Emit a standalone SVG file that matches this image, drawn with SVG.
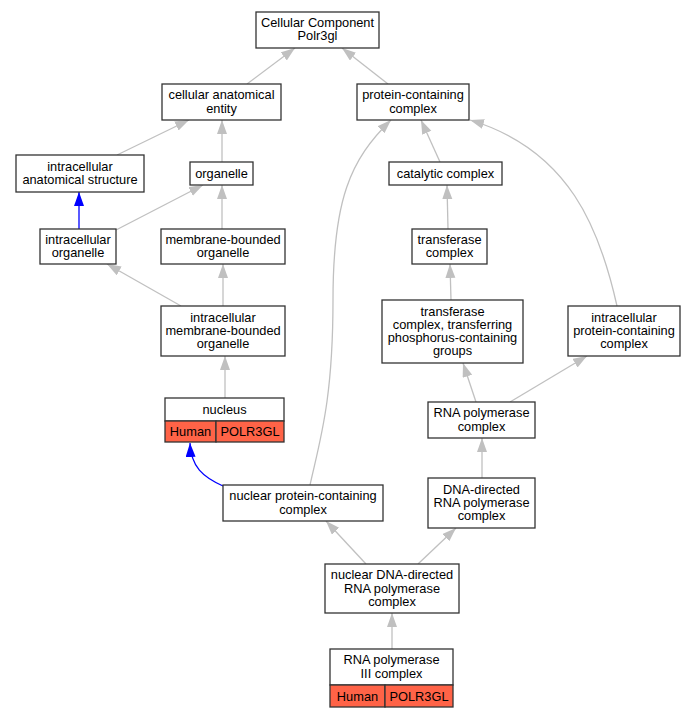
<svg xmlns="http://www.w3.org/2000/svg" width="696" height="717" viewBox="0 0 696 717">
<style>
.box{fill:#fff;stroke:#333;stroke-width:1.3}
.red{fill:#ff6347;stroke:#333;stroke-width:1.3}
text{font-family:"Liberation Sans",Arial,sans-serif;font-size:12.8px;fill:#000;text-anchor:middle}
.e{fill:none;stroke:#c0c0c0;stroke-width:1.3}
.b{fill:none;stroke:#0000ff;stroke-width:1.3}
</style>
<defs>
<marker id="ag" markerUnits="userSpaceOnUse" markerWidth="15" markerHeight="11" refX="14" refY="5" orient="auto"><path d="M0,0 L14,5 L0,10 z" fill="#c0c0c0"/></marker>
<marker id="ab" markerUnits="userSpaceOnUse" markerWidth="15" markerHeight="11" refX="14" refY="5" orient="auto"><path d="M0,0 L14,5 L0,10 z" fill="#0000ff"/></marker>
</defs>
<rect width="696" height="717" fill="#fff"/>
<g id="edges">
<path class="e" marker-end="url(#ag)" d="M247,84 L295,48"/>
<path class="e" marker-end="url(#ag)" d="M388,84 L342,48"/>
<path class="e" marker-end="url(#ag)" d="M117,155 L189,120"/>
<path class="e" marker-end="url(#ag)" d="M222,162 L222,120"/>
<path class="b" marker-end="url(#ab)" d="M79,229 L79,192"/>
<path class="e" marker-end="url(#ag)" d="M116,230 L203,185"/>
<path class="e" marker-end="url(#ag)" d="M222,229 L222,185"/>
<path class="e" marker-end="url(#ag)" d="M181,306 L107,264"/>
<path class="e" marker-end="url(#ag)" d="M223,306 L223,264"/>
<path class="e" marker-end="url(#ag)" d="M225,398 L225,356"/>
<path class="b" marker-end="url(#ab)" d="M223,486 C203,477 191,467 190,443"/>
<path class="e" marker-end="url(#ag)" d="M310,485 C320,440 333,400 333,300 C333,200 350,160 391,120"/>
<path class="e" marker-end="url(#ag)" d="M440,162 L421,120"/>
<path class="e" marker-end="url(#ag)" d="M617,306 C600,230 570,150 470,120"/>
<path class="e" marker-end="url(#ag)" d="M448,229 L447,185"/>
<path class="e" marker-end="url(#ag)" d="M451,300 L450,264"/>
<path class="e" marker-end="url(#ag)" d="M476,402 L463,363"/>
<path class="e" marker-end="url(#ag)" d="M510,402 L587,356"/>
<path class="e" marker-end="url(#ag)" d="M482,478 L482,438"/>
<path class="e" marker-end="url(#ag)" d="M366,564 L326,521"/>
<path class="e" marker-end="url(#ag)" d="M418,564 L456,528"/>
<path class="e" marker-end="url(#ag)" d="M392,649 L392,613"/>
</g>
<g id="cc"><rect class="box" x="256" y="12" width="123" height="36"/><text x="317.5" y="27">Cellular Component</text><text x="317.5" y="40.3">Polr3gl</text></g>
<g id="cae"><rect class="box" x="162" y="84" width="119" height="36"/><text x="221.5" y="99.3">cellular anatomical</text><text x="221.5" y="112.6">entity</text></g>
<g id="pcc"><rect class="box" x="357" y="84" width="112" height="36"/><text x="413" y="99.3">protein-containing</text><text x="413" y="112.6">complex</text></g>
<g id="ias"><rect class="box" x="16" y="155" width="128" height="37"/><text x="80" y="170.8">intracellular</text><text x="80" y="184.1">anatomical structure</text></g>
<g id="org"><rect class="box" x="190" y="162" width="63" height="23"/><text x="221.5" y="177.5">organelle</text></g>
<g id="cat"><rect class="box" x="389" y="162" width="113" height="23"/><text x="445.5" y="177.5">catalytic complex</text></g>
<g id="io"><rect class="box" x="40" y="229" width="76" height="35"/><text x="78" y="243.8">intracellular</text><text x="78" y="257.1">organelle</text></g>
<g id="mbo"><rect class="box" x="161" y="229" width="124" height="35"/><text x="223" y="243.8">membrane-bounded</text><text x="223" y="257.1">organelle</text></g>
<g id="tc"><rect class="box" x="412" y="229" width="75" height="35"/><text x="449.5" y="243.8">transferase</text><text x="449.5" y="257.1">complex</text></g>
<g id="imbo"><rect class="box" x="161" y="306" width="124" height="50"/><text x="223" y="321.7">intracellular</text><text x="223" y="335">membrane-bounded</text><text x="223" y="348.3">organelle</text></g>
<g id="tct"><rect class="box" x="382" y="300" width="141" height="63"/><text x="452.5" y="315.5">transferase</text><text x="452.5" y="328.8">complex, transferring</text><text x="452.5" y="342.1">phosphorus-containing</text><text x="452.5" y="355.4">groups</text></g>
<g id="ipcc"><rect class="box" x="568" y="306" width="112" height="50"/><text x="624" y="321.7">intracellular</text><text x="624" y="335">protein-containing</text><text x="624" y="348.3">complex</text></g>
<g id="nucleus"><rect class="box" x="165" y="398" width="119" height="23"/><rect class="red" x="165" y="421" width="51" height="21"/><rect class="red" x="216" y="421" width="68" height="21"/><text x="224.5" y="413.5">nucleus</text><text x="190.5" y="436">Human</text><text x="250" y="436">POLR3GL</text></g>
<g id="rnapc"><rect class="box" x="428" y="402" width="107" height="36"/><text x="481.5" y="417.3">RNA polymerase</text><text x="481.5" y="430.6">complex</text></g>
<g id="npcc"><rect class="box" x="223" y="485" width="160" height="36"/><text x="303" y="500.3">nuclear protein-containing</text><text x="303" y="513.6">complex</text></g>
<g id="ddrpc"><rect class="box" x="428" y="478" width="107" height="50"/><text x="481.5" y="493.7">DNA-directed</text><text x="481.5" y="507">RNA polymerase</text><text x="481.5" y="520.3">complex</text></g>
<g id="ndd"><rect class="box" x="325" y="564" width="134" height="49"/><text x="392" y="579.2">nuclear DNA-directed</text><text x="392" y="592.5">RNA polymerase</text><text x="392" y="605.8">complex</text></g>
<g id="rp3"><rect class="box" x="330" y="649" width="123" height="36"/><rect class="red" x="330" y="685" width="55" height="22"/><rect class="red" x="385" y="685" width="68" height="22"/><text x="391.5" y="664.3">RNA polymerase</text><text x="391.5" y="677.6">III complex</text><text x="357.5" y="700.5">Human</text><text x="419" y="700.5">POLR3GL</text></g>
</svg>
